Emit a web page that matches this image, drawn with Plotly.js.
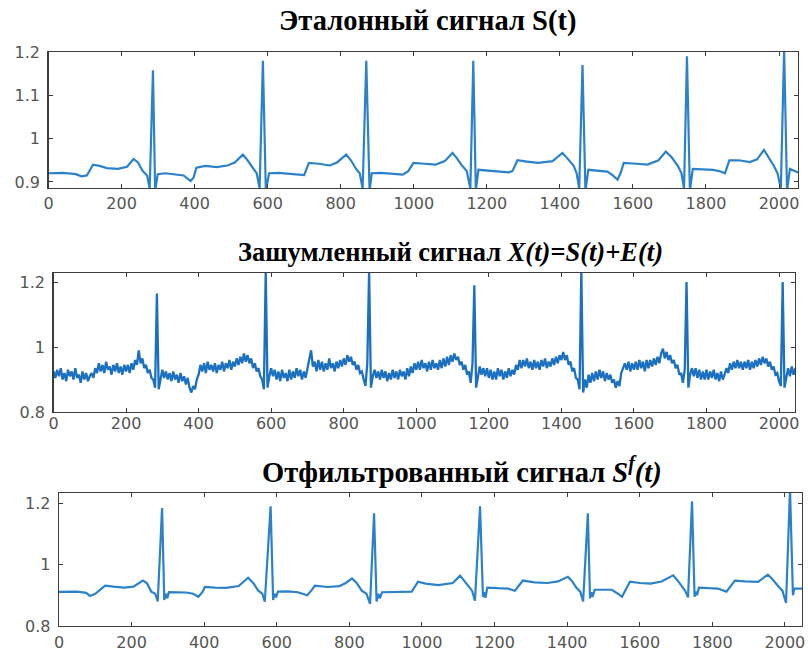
<!DOCTYPE html>
<html>
<head>
<meta charset="utf-8">
<script src="https://cdn.plot.ly/plotly-3.0.1.min.js"></script>
<style>html,body{margin:0;padding:0;background:#fff;}#chart{width:808px;height:659px;}</style>
</head>
<body>
<div id="chart"></div>
<script>
// ---------- Data ----------
// 1) Reference signal S(t): sample index / value
const t1 = [0,40,75,90,105,122,140,160,190,215,233,245,258,270,277,286,292,299,320,350,370,389,397,405,430,460,490,510,532,545,560,570,578,587,595,604,630,660,686,700,713,740,770,790,815,828,842,852,860,870,879,885,910,940,970,985,999,1030,1060,1085,1106,1118,1130,1145,1155,1163,1170,1177,1200,1230,1260,1270,1284,1310,1340,1380,1407,1420,1438,1446,1453,1462,1470,1478,1500,1530,1545,1558,1566,1575,1610,1640,1670,1690,1705,1723,1733,1740,1748,1756,1764,1790,1820,1840,1852,1864,1890,1920,1940,1959,1970,1986,1996,2005,2014,2022,2030,2045,2052];
const s1 = [0.92,0.921,0.918,0.913,0.915,0.94,0.937,0.932,0.930,0.935,0.953,0.945,0.925,0.915,0.885,1.158,0.88,0.918,0.92,0.918,0.915,0.902,0.91,0.933,0.937,0.934,0.938,0.945,0.963,0.95,0.932,0.92,0.885,1.18,0.88,0.92,0.921,0.919,0.918,0.916,0.944,0.942,0.938,0.945,0.963,0.95,0.93,0.92,0.885,1.18,0.88,0.92,0.921,0.919,0.917,0.925,0.944,0.942,0.94,0.948,0.967,0.955,0.94,0.925,0.885,1.18,0.88,0.928,0.926,0.924,0.922,0.925,0.95,0.947,0.944,0.948,0.967,0.955,0.937,0.92,0.885,1.17,0.88,0.928,0.927,0.924,0.915,0.905,0.92,0.944,0.942,0.94,0.95,0.97,0.958,0.937,0.92,0.885,1.19,0.88,0.93,0.929,0.928,0.924,0.92,0.95,0.95,0.946,0.952,0.974,0.96,0.937,0.92,0.885,1.205,0.88,0.93,0.925,0.922];

// 2) Noisy signal X(t): one value every 5 samples, starting at 0
const step2 = 5;
const x2vals = [
0.925,0.905,0.93,0.91,0.935,0.9,0.92,0.895,0.93,0.91,0.925,0.9,0.935,0.905,0.915,0.89,0.925,0.9,0.92,0.895,
0.91,0.92,0.905,0.935,0.92,0.95,0.925,0.945,0.92,0.955,0.93,0.94,0.915,0.945,0.925,0.95,0.92,0.94,0.915,0.945,
0.925,0.945,0.92,0.95,0.93,0.96,0.945,0.99,0.95,0.965,0.935,0.945,0.92,0.93,0.905,0.9,0.875,1.165,0.87,0.905,
0.93,0.905,0.925,0.9,0.92,0.895,0.925,0.9,0.915,0.89,0.92,0.895,0.91,0.885,0.905,0.875,0.86,0.88,0.87,0.9,
0.915,0.945,0.925,0.95,0.92,0.955,0.93,0.945,0.925,0.95,0.92,0.945,0.93,0.955,0.925,0.95,0.935,0.96,0.93,0.955,
0.94,0.965,0.945,0.97,0.95,0.98,0.955,0.975,0.95,0.965,0.935,0.95,0.925,0.935,0.91,0.9,0.87,1.235,0.875,0.91,
0.935,0.91,0.93,0.9,0.925,0.895,0.93,0.905,0.92,0.895,0.93,0.9,0.925,0.905,0.935,0.91,0.93,0.9,0.925,0.905,
0.93,0.955,0.99,0.94,0.955,0.925,0.96,0.93,0.955,0.925,0.95,0.93,0.965,0.935,0.95,0.925,0.955,0.935,0.96,0.94,
0.965,0.945,0.975,0.955,0.97,0.945,0.955,0.93,0.945,0.92,0.925,0.9,0.88,0.95,1.235,0.875,0.91,0.93,0.905,0.925,
0.9,0.93,0.905,0.925,0.895,0.92,0.9,0.93,0.905,0.925,0.9,0.93,0.91,0.925,0.9,0.935,0.91,0.94,0.92,0.95,
0.93,0.955,0.93,0.96,0.935,0.95,0.925,0.955,0.93,0.96,0.935,0.95,0.93,0.96,0.935,0.965,0.94,0.97,0.945,0.975,
0.955,0.98,0.96,0.97,0.945,0.955,0.93,0.945,0.915,0.925,0.89,0.95,1.19,0.875,0.915,0.94,0.915,0.935,0.91,0.935,
0.905,0.93,0.9,0.925,0.9,0.935,0.91,0.93,0.9,0.925,0.905,0.935,0.91,0.93,0.915,0.945,0.93,0.96,0.935,0.96,
0.94,0.965,0.935,0.955,0.93,0.96,0.935,0.955,0.93,0.96,0.94,0.965,0.935,0.955,0.94,0.965,0.945,0.97,0.95,0.975,
0.96,0.985,0.96,0.975,0.945,0.955,0.925,0.935,0.905,0.9,0.87,1.235,0.86,0.9,0.875,0.915,0.89,0.92,0.895,0.925,
0.9,0.93,0.905,0.925,0.895,0.92,0.9,0.915,0.89,0.9,0.875,0.895,0.88,0.92,0.935,0.95,0.93,0.955,0.925,0.95,
0.93,0.955,0.93,0.96,0.935,0.955,0.925,0.96,0.935,0.96,0.94,0.965,0.945,0.97,0.95,0.98,0.995,0.965,0.985,0.96,
0.975,0.95,0.96,0.935,0.945,0.915,0.92,0.89,0.93,1.2,0.875,0.915,0.935,0.91,0.935,0.905,0.93,0.9,0.925,0.9,
0.93,0.9,0.925,0.905,0.93,0.9,0.92,0.895,0.925,0.9,0.915,0.935,0.92,0.95,0.93,0.955,0.935,0.96,0.935,0.955,
0.93,0.955,0.935,0.96,0.93,0.955,0.935,0.96,0.94,0.965,0.945,0.97,0.95,0.965,0.94,0.955,0.93,0.94,0.915,0.92,
0.895,0.88,1.2,0.875,0.905,0.935,0.91,0.94,0.915,0.935
];

// 3) Filtered signal S^f(t)
const t3 = [0,50,75,85,100,127,150,180,205,231,242,254,265,272,284,290,295,298,303,310,350,370,384,395,402,430,460,495,521,535,549,560,567,583,590,594,598,603,630,658,684,695,705,740,773,790,807,820,834,847,857,868,875,880,884,890,920,950,972,989,1010,1045,1085,1105,1115,1127,1138,1146,1160,1168,1172,1175,1180,1210,1237,1256,1266,1278,1310,1345,1375,1402,1413,1425,1436,1444,1457,1463,1467,1470,1476,1500,1523,1540,1551,1562,1573,1600,1630,1660,1692,1703,1715,1725,1733,1744,1751,1755,1758,1763,1790,1815,1839,1850,1862,1890,1926,1953,1965,1981,1993,2003,2014,2022,2026,2048];
const s3 = [0.911,0.912,0.908,0.898,0.905,0.931,0.928,0.925,0.928,0.948,0.94,0.912,0.905,0.88,1.184,0.885,0.905,0.89,0.91,0.91,0.909,0.905,0.895,0.91,0.927,0.925,0.924,0.93,0.957,0.94,0.915,0.905,0.879,1.19,0.885,0.905,0.893,0.912,0.913,0.91,0.9,0.915,0.931,0.927,0.93,0.94,0.955,0.94,0.915,0.905,0.872,1.167,0.88,0.905,0.89,0.91,0.911,0.91,0.912,0.944,0.938,0.933,0.94,0.964,0.95,0.93,0.915,0.882,1.19,0.895,0.91,0.892,0.925,0.923,0.922,0.915,0.93,0.948,0.942,0.94,0.945,0.96,0.947,0.925,0.912,0.88,1.167,0.89,0.91,0.895,0.918,0.919,0.918,0.905,0.895,0.92,0.944,0.94,0.938,0.945,0.965,0.95,0.93,0.915,0.893,1.206,0.895,0.912,0.9,0.925,0.923,0.922,0.912,0.93,0.948,0.945,0.944,0.967,0.953,0.93,0.915,0.875,1.245,0.9,0.922,0.922];

const xTicks = [0,200,400,600,800,1000,1200,1400,1600,1800,2000];
const yTicks1 = [0.9,1,1.1,1.2];
const yTicks23 = [0.8,1,1.2];
const titles = [
  '<b>Эталонный сигнал S(t)</b>',
  '<b>Зашумленный сигнал <i>X(t)=S(t)+E(t)</i></b>',
  '<b>Отфильтрованный сигнал <i>S<sup>f</sup>(t)</i></b>'
];

// ---------- Build ----------
const t2 = x2vals.map((v, i) => i * step2);
const W = 808, H = 659;
const xd = (l, r) => [l / W, r / W];
const yd = (top, bot) => [1 - bot / H, 1 - top / H];
const lineColor = '#2c82ca';

const traces = [
  {x: t1, y: s1, type: 'scatter', mode: 'lines', line: {color: lineColor, width: 2.2}, xaxis: 'x', yaxis: 'y'},
  {x: t2, y: x2vals, type: 'scatter', mode: 'lines', line: {color: '#1b70c0', width: 2.3}, xaxis: 'x2', yaxis: 'y2'},
  {x: t3, y: s3, type: 'scatter', mode: 'lines', line: {color: lineColor, width: 2.2}, xaxis: 'x3', yaxis: 'y3'}
];

const tickFont = {family: 'DejaVu Sans', size: 16, color: '#555555'};
function xax(dom, range, anchor, standoff) {
  return {domain: dom, range: range, anchor: anchor, tickvals: xTicks, showline: true, mirror: 'allticks',
    ticks: 'inside', ticklen: 4, tickwidth: 1, linecolor: '#3c3c3c', tickcolor: '#3c3c3c', linewidth: 1.3,
    showgrid: false, zeroline: false, tickfont: tickFont, ticklabelstandoff: standoff, fixedrange: true};
}
function yax(dom, range, anchor, ticks) {
  return {domain: dom, range: range, anchor: anchor, tickvals: ticks, ticktext: ticks.map(v => String(v)),
    showline: true, mirror: 'allticks', ticks: 'inside', ticklen: 4, tickwidth: 1, linecolor: '#3c3c3c',
    tickcolor: '#3c3c3c', linewidth: 1.3, showgrid: false, zeroline: false, tickfont: tickFont,
    ticklabelstandoff: 4, fixedrange: true};
}

const titleFont = (s) => ({family: 'Liberation Serif', size: s, color: '#000'});
const layout = {
  width: W, height: H, margin: {l: 0, r: 0, t: 0, b: 0}, showlegend: false,
  paper_bgcolor: '#fff', plot_bgcolor: '#fff',
  xaxis: xax(xd(48.5, 798), [0, 2052], 'y', 0),
  yaxis: yax(yd(52, 188), [0.886, 1.2], 'x', yTicks1),
  xaxis2: xax(xd(53.5, 795), [0, 2044], 'y2', -4),
  yaxis2: yax(yd(273, 412), [0.8, 1.228], 'x2', yTicks23),
  xaxis3: xax(xd(59, 802), [0, 2047], 'y3', 1),
  yaxis3: yax(yd(493, 626), [0.8, 1.233], 'x3', yTicks23),
  annotations: [
    {text: titles[0], xref: 'paper', yref: 'paper', x: 427 / W, y: 1 - 21 / H, xanchor: 'center', yanchor: 'middle', showarrow: false, font: titleFont(28.5)},
    {text: titles[1], xref: 'paper', yref: 'paper', x: 450 / W, y: 1 - 252 / H, xanchor: 'center', yanchor: 'middle', showarrow: false, font: titleFont(26.5)},
    {text: titles[2], xref: 'paper', yref: 'paper', x: 462 / W, y: 1 - 470 / H, xanchor: 'center', yanchor: 'middle', showarrow: false, font: titleFont(28.5)}
  ]
};

Plotly.newPlot('chart', traces, layout, {staticPlot: true, displayModeBar: false});
</script>
</body>
</html>
